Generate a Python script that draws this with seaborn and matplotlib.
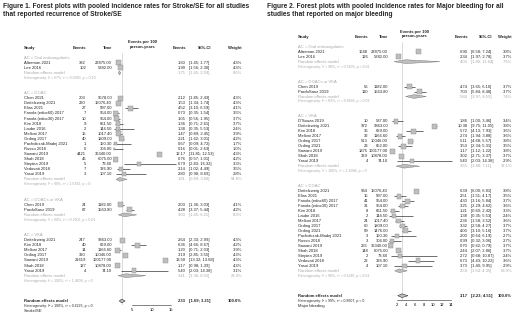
import matplotlib
matplotlib.use('Agg')
import matplotlib.pyplot as plt
import matplotlib.transforms as mtransforms
import seaborn as sns
import pandas as pd

# ---------------- Figure 1: Stroke/SE ----------------
stroke_groups = ['AC = Oral anticoagulants', 'AC = DOAC', 'AC = DOACs or VKA', 'AC = VKA']
stroke_group_sizes = [2, 16, 2, 7]
stroke_study = ['Alterman 2021', 'Lee 2016',
                'Chan 2021', 'Deitelzweig 2021', 'Elias 2021', 'Fanola (edox60) 2017',
                'Fanola (edox30) 2017', 'Kim 2018', 'Laube 2016', 'Melloni 2017', 'Ording 2017',
                'Pachołczak-Madej 2021', 'Russo 2018', 'Sawant 2019', 'Shah 2018', 'Stepien 2019',
                'Vedovati 2018', 'Yasui 2019',
                'Chen 2019', 'PardoSanz 2019',
                'Deitelzweig 2021', 'Kim 2018', 'Melloni 2017', 'Ording 2017', 'Sawant 2019',
                'Shah 2018', 'Yasui 2019']
stroke_events = [382, 102,
                 203, 230, 27, 7, 10, 9, 2, 15, 40, 1, 0, 4421, 46, 5, 7, 3,
                 24, 67,
                 247, 40, 14, 320, 21619, 127, 4]
stroke_time = [23875.00, 5382.00,
               9578.00, 15076.40, 597.00, 954.00, 954.00, 661.50, 144.50, 1017.40, 1809.00,
               150.30, 304.00, 36340.00, 6075.00, 73.60, 326.90, 107.10,
               1182.00, 1563.80,
               9363.00, 629.00, 1166.60, 10046.00, 160177.00, 10878.00, 74.10]
stroke_rate = [1.60, 1.90,
               2.12, 1.53, 4.52, 0.73, 1.05, 1.36, 1.38, 1.47, 2.21, 0.67, 0.16, 12.17, 0.76, 6.79, 2.14, 2.80,
               2.03, 4.28,
               2.64, 6.36, 1.20, 3.19, 13.50, 1.17, 5.40]
stroke_lo = [1.45, 1.56,
             1.85, 1.34, 3.10, 0.35, 0.56, 0.71, 0.35, 0.89, 1.62, 0.09, 0.01, 11.81, 0.57, 2.83, 1.02, 0.90,
             1.36, 3.37,
             2.33, 4.66, 0.71, 2.85, 13.32, 0.98, 2.03]
stroke_hi = [1.77, 2.30,
             2.43, 1.74, 6.59, 1.54, 1.95, 2.61, 5.53, 2.45, 3.01, 4.72, 2.63, 12.53, 1.01, 16.32, 4.49, 8.69,
             3.03, 5.44,
             2.99, 8.67, 2.03, 3.55, 13.68, 1.39, 14.38]
stroke_weight = [4.3, 4.3,
                 4.3, 4.3, 4.1, 3.5, 3.7, 3.7, 2.4, 3.9, 4.2, 1.7, 1.0, 4.3, 4.2, 3.3, 3.5, 2.8,
                 4.1, 4.2,
                 4.3, 4.2, 3.9, 4.3, 4.3, 4.3, 3.1]
stroke_sub_rate = [1.75, 1.81, 3.00, 3.41]
stroke_sub_lo = [1.45, 0.89, 1.45, 1.36]
stroke_sub_hi = [2.09, 3.68, 6.21, 8.55]
stroke_sub_weight = [8.6, 54.8, 8.3, 28.3]
stroke_sub_het = ['Heterogeneity: I² = 67%, τ² = 0.0083, p = 0.10',
                  'Heterogeneity: I² = 99%, τ² = 1.6782, p = 0',
                  'Heterogeneity: I² = 90%, τ² = 0.2606, p < 0.01',
                  'Heterogeneity: I² = 100%, τ² = 1.4608, p = 0']
stroke_overall = [2.33, 1.69, 3.21]
stroke_overall_het = 'Heterogeneity: I² = 100%, τ² = 0.6225, p = 0'
stroke_ticks = [5, 10, 15]

# ---------------- Figure 2: Major bleeding ----------------
bleed_groups = ['AC = Oral anticoagulants', 'AC = DOACs or VKA', 'AC = VKA', 'AC = DOAC']
bleed_group_sizes = [2, 2, 9, 16]
bleed_study = ['Alterman 2021', 'Lee 2016',
               'Chen 2019', 'PardoSanz 2019',
               "D'Souza 2019", 'Deitelzweig 2021', 'Kim 2018', 'Melloni 2017', 'Ording 2017',
               'Ording 2021', 'Sawant 2019', 'Shah 2018', 'Yasui 2019',
               'Deitelzweig 2021', 'Elias 2021', 'Fanola (edox60) 2017', 'Fanola (edox30) 2017',
               'Kim 2018', 'Laube 2016', 'Melloni 2017', 'Ording 2017', 'Ording 2021',
               'Pachołczak-Madej 2021', 'Russo 2018', 'Sawant 2019', 'Shah 2018', 'Stepien 2019',
               'Vedovati 2018', 'Yasui 2019']
bleed_events = [1648, 126,
                56, 110,
                10, 972, 36, 32, 513, 23, 1875, 329, 4,
                964, 15, 41, 31, 8, 2, 24, 60, 59, 3, 3, 255, 148, 2, 22, 4]
bleed_time = [23875.00, 5382.00,
              1182.00, 1563.80,
              537.00, 9363.00, 629.00, 1166.60, 10046.00, 652.00, 160177.00, 10878.00, 74.10,
              15076.40, 597.00, 954.00, 954.00, 661.50, 144.50, 1017.40, 1809.00, 1476.00,
              150.30, 304.00, 36340.00, 6075.00, 73.60, 326.90, 107.10]
bleed_rate = [6.90, 2.34,
              4.74, 7.03,
              1.86, 10.38, 5.72, 2.74, 5.11, 3.53, 1.17, 3.02, 5.40,
              6.39, 2.51, 4.30, 3.25, 1.21, 1.38, 2.36, 3.32, 4.00, 2.00, 0.99, 0.70, 2.44, 2.72, 6.73, 3.73]
bleed_lo = [6.58, 1.97,
            3.65, 5.84,
            1.00, 9.75, 4.13, 1.94, 4.68, 2.34, 1.12, 2.71, 2.03,
            6.00, 1.51, 3.16, 2.29, 0.60, 0.35, 1.58, 2.58, 3.10, 0.64, 0.32, 0.62, 2.07, 0.68, 4.43, 1.40]
bleed_hi = [7.24, 2.78,
            6.16, 8.48,
            3.46, 11.05, 7.93, 3.88, 5.57, 5.31, 1.22, 3.37, 14.38,
            6.81, 4.17, 5.84, 4.62, 2.42, 5.53, 3.52, 4.27, 5.16, 6.19, 3.06, 0.79, 2.86, 10.87, 10.22, 9.95]
bleed_weight = [3.8, 3.7,
                3.7, 3.7,
                3.4, 3.8, 3.6, 3.6, 3.8, 3.5, 3.8, 3.7, 2.9,
                3.8, 3.5, 3.7, 3.6, 3.3, 2.4, 3.6, 3.7, 3.7, 2.7, 2.7, 3.7, 3.7, 2.4, 3.6, 2.9]
bleed_sub_rate = [4.03, 5.84, 3.65, 2.59]
bleed_sub_lo = [1.40, 3.97, 1.88, 1.54]
bleed_sub_hi = [11.64, 8.59, 7.11, 4.35]
bleed_sub_weight = [7.5, 7.4, 32.1, 53.0]
bleed_sub_het = ['Heterogeneity: I² = 98%, τ² = 0.5803, p < 0.01',
                 'Heterogeneity: I² = 83%, τ² = 0.0646, p = 0.02',
                 'Heterogeneity: I² = 100%, τ² = 1.0386, p = 0',
                 'Heterogeneity: I² = 98%, τ² = 0.6246, p < 0.01']
bleed_overall = [3.17, 2.23, 4.51]
bleed_overall_het = 'Heterogeneity: I² = 99%, τ² = 0.8607, p = 0'
bleed_ticks = [2, 4, 6, 8, 10, 12, 14]

W, H = 520, 316
SUB_COL = '#a8a8a8'
FS = 3.0
TITLE_FS = 4.8

sns.set_style('white')
plt.rcParams['font.family'] = ['Liberation Sans', 'DejaVu Sans']


def layout_rows(group_sizes, gap=2, overall_gap=3):
    headers, studies, subs = [], [], []
    r = 0
    for n in group_sizes:
        headers.append(r)
        studies += list(range(r + 1, r + 1 + n))
        subs.append(r + 1 + n)
        r = r + n + 3 + gap
    overall = r - gap + overall_gap
    return headers, studies, subs, overall


def forest(fig, cols, x0_px, ppu, xmax, y0_px, axis_px, groups, group_sizes, study, events,
           time, rate, lo, hi, weight, sub_rate, sub_lo, sub_hi, sub_weight, sub_het,
           overall, overall_het, label, ticks):
    headers, srows, subs, orow = layout_rows(group_sizes)
    step = (cols['overall_px'] - y0_px) / orow
    top_px = y0_px - step
    ax = fig.add_axes([x0_px / W, 1 - axis_px / H, ppu * xmax / W, (axis_px - top_px) / H])
    ax.set_xlim(0, xmax)
    ax.set_ylim((axis_px - y0_px) / step, (top_px - y0_px) / step)

    df = pd.DataFrame({'rate': rate, 'row': srows, 'weight': weight, 'lo': lo, 'hi': hi})
    ax.hlines(df['row'], df['lo'], df['hi'], color='black', lw=0.4, zorder=2)
    wmax = df['weight'].max()
    area = 13.0
    sns.scatterplot(data=df, x='rate', y='row', size='weight',
                    sizes=(area * df['weight'].min() / wmax, area), marker='s',
                    color='#bebebe', edgecolor='#8a8a8a', linewidth=0.3,
                    legend=False, ax=ax, zorder=3)

    ax.axvline(overall[0], color='#cccccc', lw=0.5, zorder=1)

    for r, m, l, h in zip(subs, sub_rate, sub_lo, sub_hi):
        ax.fill([l, m, h, m], [r, r - 0.38, r, r + 0.38], facecolor='#bebebe',
                edgecolor='#707070', lw=0.3, zorder=3)
    ax.fill([overall[1], overall[0], overall[2], overall[0]],
            [orow, orow - 0.38, orow, orow + 0.38], facecolor='#bebebe',
            edgecolor='black', lw=0.3, zorder=3)

    ax.set_xticks(ticks)
    ax.set_xticklabels([str(t) for t in ticks])
    ax.set_yticks([])
    sns.despine(ax=ax, left=True)
    ax.spines['bottom'].set_bounds(ticks[0], ticks[-1])
    ax.spines['bottom'].set_linewidth(0.4)
    ax.tick_params(axis='x', length=1.5, width=0.4, pad=0.8, labelsize=FS, colors='black')
    ax.set_ylabel('')
    ax.set_xlabel('')
    ax.patch.set_alpha(0)

    tr = mtransforms.blended_transform_factory(fig.transFigure, ax.transData)

    def put(px, row, s, ha='left', **kw):
        kw.setdefault('fontsize', FS)
        ax.text(px / W, row, s, transform=tr, ha=ha, va='center', **kw)

    # column headers
    hrow = -2
    put(cols['study'], hrow, 'Study', fontweight='bold')
    put(cols['events'], hrow, 'Events', ha='right', fontweight='bold')
    put(cols['time'], hrow, 'Time', ha='right', fontweight='bold')
    put(cols['ir'], hrow - 1.0, 'Events per 100', ha='center', fontweight='bold')
    put(cols['ir'], hrow - 0.1, 'person-years', ha='center', fontweight='bold')
    put(cols['rate'], hrow, 'Events', ha='right', fontweight='bold')
    put(cols['cih'], hrow, '95%-CI', ha='center', fontweight='bold')
    put(cols['weight'], hrow, 'Weight', ha='right', fontweight='bold')

    for i, r in enumerate(srows):
        put(cols['study'], r, study[i])
        put(cols['events'], r, str(events[i]), ha='right')
        put(cols['time'], r, f'{time[i]:.2f}', ha='right')
        put(cols['rate'], r, f'{rate[i]:.2f}', ha='right')
        put(cols['ci'], r, f'[{lo[i]:.2f}; {hi[i]:.2f}]')
        put(cols['weight'], r, f'{weight[i]:.1f}%', ha='right')

    for g, hr, sr in zip(range(len(groups)), headers, subs):
        put(cols['study'], hr, groups[g], color=SUB_COL)
        put(cols['study'], sr, 'Random effects model', color=SUB_COL)
        put(cols['study'], sr + 1, sub_het[g], color=SUB_COL, fontsize=FS * 0.85)
        put(cols['rate'], sr, f'{sub_rate[g]:.2f}', ha='right', color=SUB_COL)
        put(cols['ci'], sr, f'[{sub_lo[g]:.2f}; {sub_hi[g]:.2f}]', color=SUB_COL)
        put(cols['weight'], sr, f'{sub_weight[g]:.1f}%', ha='right', color=SUB_COL)

    put(cols['study'], orow, 'Random effects model', fontweight='bold')
    put(cols['study'], orow + 1, overall_het, fontsize=FS * 0.85)
    put(cols['study'], orow + 2, label)
    put(cols['rate'], orow, f'{overall[0]:.2f}', ha='right', fontweight='bold')
    put(cols['ci'], orow, f'[{overall[1]:.2f}; {overall[2]:.2f}]', fontweight='bold')
    put(cols['weight'], orow, '100.0%', ha='right', fontweight='bold')
    return ax


fig = plt.figure(figsize=(W / 100, H / 100), dpi=100)

fig.text(3 / W, 1 - 6 / H, 'Figure 1. Forest plots with pooled incidence rates for Stroke/SE for all studies',
         fontsize=TITLE_FS, fontweight='bold', va='center')
fig.text(3 / W, 1 - 14.5 / H, 'that reported recurrence of Stroke/SE',
         fontsize=TITLE_FS, fontweight='bold', va='center')
fig.text(267 / W, 1 - 6 / H, 'Figure 2. Forest plots with pooled incidence rates for Major bleeding for all',
         fontsize=TITLE_FS, fontweight='bold', va='center')
fig.text(267 / W, 1 - 14.5 / H, 'studies that reported on major bleeding',
         fontsize=TITLE_FS, fontweight='bold', va='center')

stroke_cols = {'study': 24, 'events': 86, 'time': 112, 'ir': 143, 'rate': 186,
               'ci': 189, 'cih': 205, 'weight': 242, 'overall_px': 301}
forest(fig, stroke_cols, 112.7, 3.88, 17.5, 57.7, 305, stroke_groups, stroke_group_sizes,
       stroke_study, stroke_events, stroke_time, stroke_rate, stroke_lo, stroke_hi, stroke_weight,
       stroke_sub_rate, stroke_sub_lo, stroke_sub_hi, stroke_sub_weight, stroke_sub_het,
       stroke_overall, stroke_overall_het, 'Stroke/SE', stroke_ticks)

bleed_cols = {'study': 298, 'events': 368, 'time': 388, 'ir': 415, 'rate': 468,
              'ci': 471, 'cih': 486, 'weight': 512, 'overall_px': 295.7}
forest(fig, bleed_cols, 387.7, 4.5, 15, 46.7, 299.5, bleed_groups, bleed_group_sizes,
       bleed_study, bleed_events, bleed_time, bleed_rate, bleed_lo, bleed_hi, bleed_weight,
       bleed_sub_rate, bleed_sub_lo, bleed_sub_hi, bleed_sub_weight, bleed_sub_het,
       bleed_overall, bleed_overall_het, 'Major bleeding', bleed_ticks)

fig.savefig('out.png', dpi=100)
